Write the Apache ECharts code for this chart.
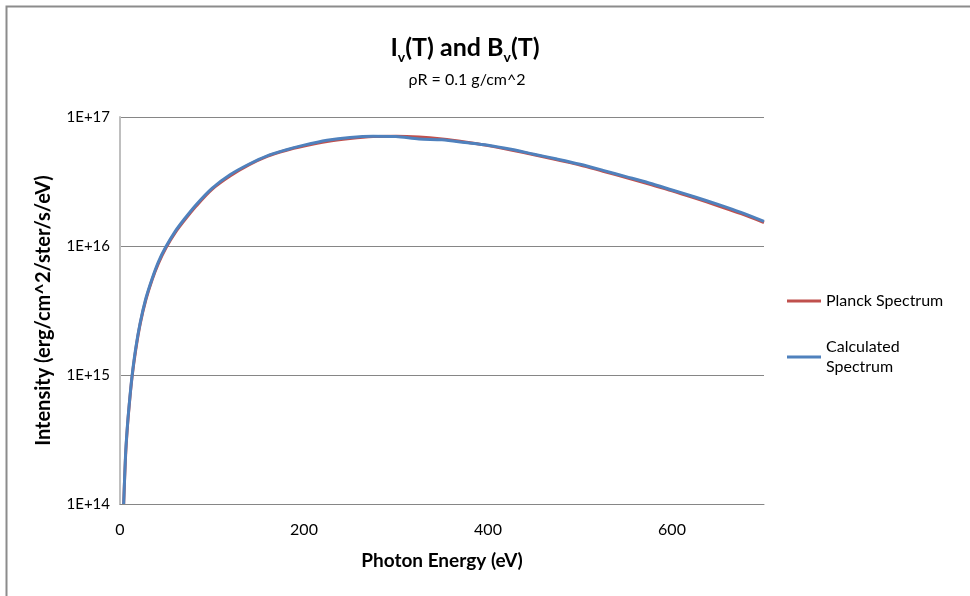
<!DOCTYPE html>
<html>
<head>
<meta charset="utf-8">
<script src="https://cdn.jsdelivr.net/npm/echarts@6/dist/echarts.min.js"></script>
<style>
  html, body { margin: 0; padding: 0; background: #fff; }
  #chart { width: 970px; height: 596px; }
</style>
</head>
<body>
<div id="chart"></div>
<script>
// photon energy (eV)
const energy = [4, 6, 8, 10, 13, 17, 22, 28, 35, 42, 50, 60, 70, 83, 100, 120, 140, 160, 180, 200,
  225, 250, 275, 300, 325, 350, 375, 400, 425, 450, 475, 500, 525, 550, 575, 600, 625, 650, 675, 700];
// intensity, erg/cm^2/ster/s/eV
const planck = [1.0e14, 2.3e14, 3.9e14, 5.8e14, 9.5e14, 1.55e15, 2.5e15, 3.8e15, 5.5e15, 7.4e15,
  9.7e15, 1.27e16, 1.58e16, 2.05e16, 2.75e16, 3.5e16, 4.25e16, 4.95e16, 5.5e16, 5.95e16,
  6.45e16, 6.8e16, 7.05e16, 7.1e16, 7.0e16, 6.75e16, 6.4e16, 6.0e16, 5.55e16, 5.1e16,
  4.65e16, 4.25e16, 3.8e16, 3.4e16, 3.02e16, 2.68e16, 2.35e16, 2.05e16, 1.78e16, 1.52e16];
const calculated = [1.0e14, 2.4e14, 4.0e14, 5.9e14, 9.7e14, 1.6e15, 2.55e15, 3.9e15, 5.6e15, 7.6e15,
  9.9e15, 1.3e16, 1.62e16, 2.1e16, 2.8e16, 3.58e16, 4.3e16, 5.0e16, 5.55e16, 6.05e16,
  6.6e16, 6.95e16, 7.1e16, 7.05e16, 6.75e16, 6.65e16, 6.35e16, 6.05e16, 5.62e16, 5.15e16,
  4.72e16, 4.3e16, 3.86e16, 3.45e16, 3.08e16, 2.72e16, 2.4e16, 2.1e16, 1.82e16, 1.55e16];
const seriesNames = ['Planck Spectrum', 'Calculated Spectrum'];

const font = 'Lato, "Open Sans", sans-serif';
const pair = vals => energy.map((e, i) => [e, vals[i]]);

const chart = echarts.init(document.getElementById('chart'));

const option = {
  animation: false,
  backgroundColor: '#fff',
  textStyle: { fontFamily: font },
  title: [
    {
      left: 460,
      top: 27,
      textAlign: 'center',
      text: '{a|I}{s|v}{a|(T) and B}{s|v}{a|(T)}',
      textStyle: {
        rich: {
          a: { fontSize: 25, fontWeight: 'bold', color: '#000', fontFamily: font, lineHeight: 32 },
          s: { fontSize: 14, fontWeight: 'bold', color: '#000', fontFamily: font, verticalAlign: 'top', padding: [18, 0, 0, 0] }
        }
      }
    },
    {
      left: 462,
      top: 67,
      textAlign: 'center',
      text: 'ρR = 0.1 g/cm^2',
      textStyle: { fontSize: 16, fontWeight: 'normal', color: '#000', fontFamily: font }
    }
  ],
  legend: {
    orient: 'vertical',
    left: 782,
    top: 286,
    itemGap: 16,
    itemWidth: 34,
    itemHeight: 3,
    icon: 'rect',
    selectedMode: false,
    textStyle: { fontSize: 16, color: '#000', fontFamily: font, lineHeight: 20 },
    data: [
      { name: seriesNames[0] },
      { name: seriesNames[1], textStyle: { padding: [20, 0, 0, 0] } }
    ],
    formatter: name => (name === 'Calculated Spectrum' ? 'Calculated\nSpectrum' : name)
  },
  grid: { left: 120, right: 206, top: 117, bottom: 92, containLabel: false },
  xAxis: {
    type: 'value',
    min: 0,
    max: 700,
    interval: 200,
    name: 'Photon Energy (eV)',
    nameLocation: 'middle',
    nameGap: 47,
    nameTextStyle: { fontSize: 19, fontWeight: 'bold', color: '#000', fontFamily: font },
    axisLine: { show: true, lineStyle: { color: '#868686', width: 1 } },
    axisTick: { show: false },
    axisLabel: { fontSize: 16, color: '#000', margin: 18, showMaxLabel: false },
    splitLine: { show: false }
  },
  yAxis: {
    type: 'log',
    logBase: 10,
    min: 1e14,
    max: 1e17,
    name: 'Intensity (erg/cm^2/ster/s/eV)',
    nameLocation: 'middle',
    nameRotate: 90,
    nameGap: 66,
    nameTextStyle: { fontSize: 20, fontWeight: 'bold', color: '#000', fontFamily: font },
    axisLine: { show: true, lineStyle: { color: '#bfbfbf', width: 2 } },
    axisTick: { show: false },
    axisLabel: {
      fontSize: 15,
      color: '#000',
      margin: 10,
      formatter: v => '1E+' + Math.round(Math.log10(v))
    },
    splitLine: { show: true, lineStyle: { color: '#868686', width: 1 } }
  },
  graphic: [{
    type: 'rect',
    shape: { x: 6.5, y: 6.5, width: 990, height: 620 },
    style: { fill: 'none', stroke: '#8c8c8c', lineWidth: 2 },
    silent: true,
    z: -1
  }],
  series: [
    {
      name: seriesNames[0],
      type: 'line',
      data: pair(planck),
      symbol: 'none',
      smooth: 0.3,
      clip: true,
      lineStyle: { color: '#C0504D', width: 3 },
      itemStyle: { color: '#C0504D' }
    },
    {
      name: seriesNames[1],
      type: 'line',
      data: pair(calculated),
      symbol: 'none',
      smooth: 0.3,
      clip: true,
      lineStyle: { color: '#4F81BD', width: 3 },
      itemStyle: { color: '#4F81BD' }
    }
  ]
};

chart.setOption(option);
window.addEventListener('resize', chart.resize);
</script>
</body>
</html>
